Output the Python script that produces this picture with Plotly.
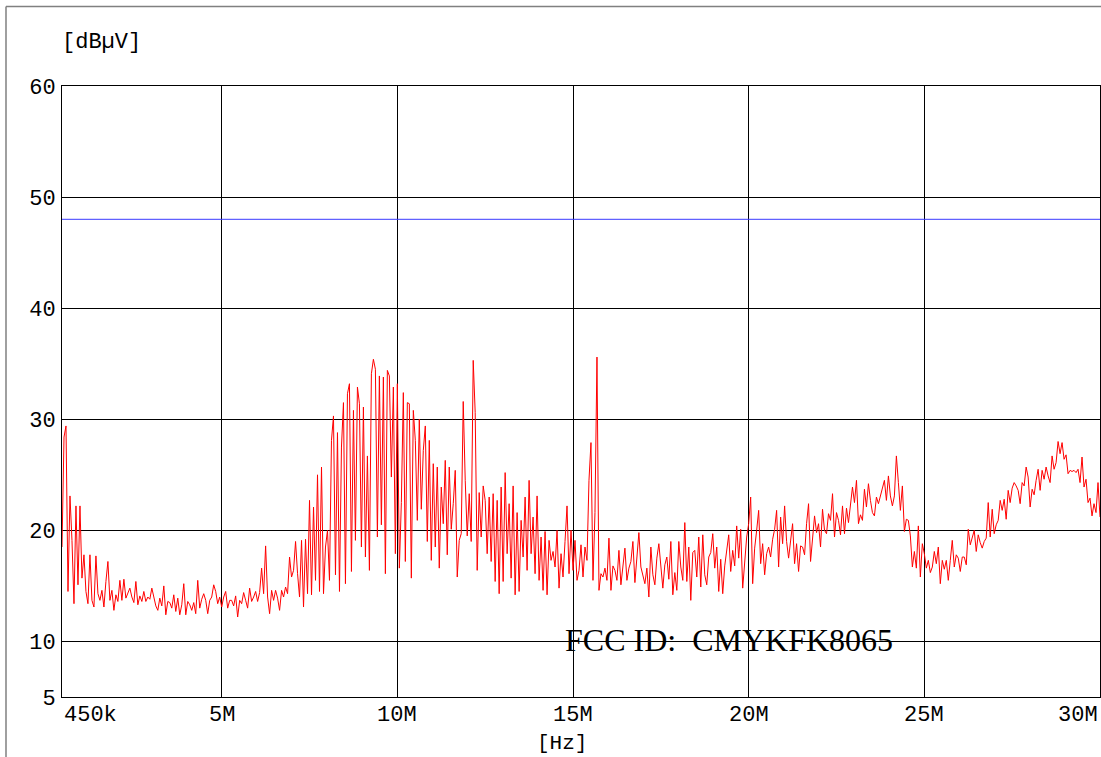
import numpy as np
import plotly.graph_objects as go

# ---- data ----
F_START_HZ = 450e3
F_STOP_HZ = 30e6

# measured level [dBuV], sweep chunks (each ~2 px step in reference)
level_0450k_5M = [18.5, 28.4, 29.4, 14.5, 23.1, 19.1, 13.4, 22.2, 15.1, 22.2,
                  15.7, 17.8, 14.5, 13.4, 17.8, 13.7, 13.1, 17.7, 14.3, 13.7,
                  14.6, 13.1, 15.4, 17.2, 13.7, 14.6, 12.8, 14.2, 13.6, 15.5,
                  13.7, 15.6, 13.9, 14.3, 14.8, 14.0, 13.5, 15.4, 13.3, 14.1,
                  13.6, 14.5, 13.6, 14.0, 13.8, 14.8, 13.9, 13.2, 12.8, 13.9,
                  13.2, 15.0, 12.4, 13.6, 13.5, 13.0, 14.2, 12.7, 13.9, 12.4,
                  13.3, 15.2, 12.4, 13.6, 13.3, 12.8, 13.5, 12.5, 15.5, 13.0,
                  13.8, 14.3, 13.7, 12.5, 13.7, 14.0, 15.1, 14.5, 13.4, 14.0]
level_5M_10M = [13.1, 14.0, 14.5, 13.0, 13.7, 13.7, 13.2, 14.1, 12.2, 13.7,
                13.4, 14.4, 13.7, 13.0, 14.8, 13.6, 14.0, 14.5, 13.6, 14.4,
                16.6, 14.3, 18.6, 14.0, 12.5, 14.6, 13.7, 14.6, 13.9, 12.8,
                14.6, 14.0, 14.9, 14.3, 17.6, 15.8, 16.4, 19.0, 16.1, 14.0,
                19.1, 13.1, 19.2, 14.3, 22.7, 14.2, 22.1, 15.5, 25.0, 14.5,
                25.7, 14.3, 18.5, 20.0, 15.5, 28.1, 30.3, 16.0, 28.8, 14.5,
                27.5, 31.5, 15.2, 32.3, 33.2, 16.3, 30.8, 19.1, 32.9, 31.4,
                18.5, 31.1, 17.6, 26.7, 16.4, 34.1, 35.4, 34.5, 19.4, 33.9,
                20.5, 33.8, 16.1, 34.4, 33.9, 24.8, 32.9, 17.9]
level_10M_15M = [33.2, 16.6, 22.5, 32.4, 17.2, 31.5, 31.4, 15.7, 30.8, 28.1,
                 20.9, 30.0, 21.9, 27.2, 29.4, 19.0, 28.1, 17.3, 26.0, 18.5,
                 25.7, 16.6, 23.9, 20.6, 26.3, 17.8, 25.7, 20.1, 22.4, 25.4,
                 15.8, 19.1, 19.7, 31.6, 24.5, 19.5, 23.3, 19.0, 35.3, 30.6,
                 16.4, 23.4, 19.4, 24.0, 22.7, 17.9, 23.0, 17.2, 23.3, 15.4,
                 22.7, 14.3, 23.9, 15.4, 25.2, 17.9, 22.4, 15.7, 24.0, 14.2,
                 21.6, 14.5, 20.9, 17.6, 23.0, 16.4, 24.5, 17.9, 21.2, 16.1,
                 23.1, 15.5, 19.4, 14.6, 19.9, 14.2, 19.1, 17.3, 18.1, 16.7,
                 20.0, 14.8, 17.9, 15.8, 19.0, 22.2, 16.1, 20.0]
level_15M_20M = [16.4, 19.1, 15.5, 16.4, 18.7, 15.8, 18.5, 17.3, 24.5, 27.9,
                 15.5, 21.6, 35.6, 14.6, 16.1, 15.8, 16.6, 15.5, 19.3, 14.6,
                 16.8, 16.4, 15.5, 18.2, 15.1, 16.5, 18.4, 15.5, 16.6, 17.2,
                 19.0, 15.3, 17.8, 19.8, 16.7, 16.0, 15.2, 16.6, 14.0, 18.5,
                 16.0, 15.1, 17.5, 18.8, 16.5, 14.8, 16.9, 17.6, 15.6, 19.0,
                 14.2, 16.2, 14.6, 19.0, 16.7, 15.5, 20.7, 15.4, 18.5, 13.7,
                 18.0, 18.2, 15.8, 19.4, 14.9, 19.6, 16.0, 15.1, 17.6, 18.0,
                 19.7, 16.6, 18.5, 14.5, 17.4, 14.3, 16.8, 18.2, 19.6, 16.3,
                 18.2, 16.8, 20.4, 17.5, 20.1, 14.8, 17.4, 19.4]
level_20M_25M = [20.6, 23.0, 15.2, 18.4, 20.0, 21.8, 17.0, 18.8, 16.0, 17.9,
                 18.5, 17.6, 19.2, 20.1, 21.8, 16.7, 21.2, 18.8, 22.2, 19.0,
                 17.5, 19.3, 20.6, 17.0, 18.8, 16.3, 18.6, 18.5, 17.8, 20.6,
                 22.4, 17.2, 19.0, 21.3, 19.8, 20.6, 18.5, 21.9, 20.0, 19.7,
                 21.5, 20.9, 23.3, 19.4, 21.6, 20.9, 19.6, 22.2, 19.7, 22.0,
                 20.7, 22.2, 23.9, 22.5, 24.5, 20.6, 21.4, 20.9, 23.7, 22.1,
                 24.2, 22.7, 21.6, 21.3, 23.0, 22.4, 23.1, 23.9, 24.5, 22.7,
                 24.9, 23.1, 22.2, 23.1, 26.7, 24.3, 21.8, 24.0, 19.9, 21.0,
                 20.9, 19.5, 16.7, 18.1, 16.6, 20.4, 15.8, 18.8]
level_25M_30M = [17.9, 16.6, 17.3, 16.2, 16.7, 18.1, 17.0, 18.5, 15.2, 17.3,
                 16.5, 17.3, 15.5, 17.3, 19.1, 16.7, 17.8, 17.5, 16.3, 17.6,
                 17.6, 16.9, 20.1, 18.7, 19.5, 20.0, 18.1, 19.6, 18.9, 18.4,
                 19.0, 19.3, 22.5, 19.4, 21.9, 19.7, 20.5, 20.9, 22.7, 21.8,
                 22.8, 21.0, 23.6, 22.5, 23.8, 24.3, 24.0, 23.6, 22.4, 24.3,
                 24.0, 25.7, 24.8, 22.1, 23.7, 23.2, 24.5, 25.5, 23.6, 25.4,
                 24.6, 25.7, 24.9, 24.3, 26.7, 25.5, 26.1, 28.0, 26.9, 27.9,
                 26.4, 26.8, 25.1, 25.4, 25.3, 25.4, 25.2, 25.5, 24.3, 26.6,
                 23.9, 24.6, 22.5, 22.9, 21.3, 22.4, 21.6, 24.3, 21.2]

limit_freq_hz = [450e3, 30e6]
limit_level = [48.0, 48.0]

x_tick_vals = [450e3, 5e6, 10e6, 15e6, 20e6, 25e6, 30e6]
x_tick_text = ["450k", "5M", "10M", "15M", "20M", "25M", "30M"]
y_tick_vals = [5, 10, 20, 30, 40, 50, 60]
y_tick_text = ["5", "10", "20", "30", "40", "50", "60"]

level = (level_0450k_5M + level_5M_10M + level_10M_15M + level_15M_20M
         + level_20M_25M + level_25M_30M)
freq_hz = np.linspace(F_START_HZ, F_STOP_HZ, len(level))  # sweep grid

MONO = "Liberation Mono, Courier New, monospace"
SERIF = "Liberation Serif, Times New Roman, serif"

fig = go.Figure()
fig.add_trace(go.Scatter(x=freq_hz, y=level, mode="lines",
                         line=dict(color="#ff0000", width=1), hoverinfo="skip"))
fig.add_trace(go.Scatter(x=limit_freq_hz, y=limit_level, mode="lines",
                         line=dict(color="#3a3aff", width=1), hoverinfo="skip"))

fig.update_layout(
    width=1101, height=757,
    margin=dict(l=62, r=1, t=86, b=60),
    paper_bgcolor="white", plot_bgcolor="white",
    showlegend=False,
    font=dict(family=MONO, size=22, color="black"),
)
fig.update_xaxes(
    range=[F_START_HZ, F_STOP_HZ],
    tickvals=x_tick_vals[1:], showticklabels=False,
    showgrid=True, gridcolor="black", gridwidth=1,
    showline=True, mirror=True, linecolor="black", linewidth=1,
    zeroline=False, ticks="",
)
fig.update_yaxes(
    range=[5, 60],
    tickvals=y_tick_vals, ticktext=y_tick_text,
    showgrid=True, gridcolor="black", gridwidth=1,
    showline=True, mirror=True, linecolor="black", linewidth=1,
    zeroline=False, ticks="", ticklabelstandoff=1,
    tickfont=dict(family=MONO, size=22, color="black"),
)

# x tick labels
for v, t in zip(x_tick_vals, x_tick_text):
    anchor = "left" if v == x_tick_vals[0] else ("right" if v == x_tick_vals[-1] else "center")
    fig.add_annotation(x=v, xref="x", y=-0.031, yref="paper", text=t,
                       showarrow=False, xanchor=anchor, yanchor="middle",
                       font=dict(family=MONO, size=22, color="black"))

fig.add_annotation(x=-0.002, xref="paper", y=1.0704, yref="paper", text="[dBµV]",
                   showarrow=False, xanchor="left", yanchor="middle",
                   font=dict(family=MONO, size=22, color="black"))
fig.add_annotation(x=0.4817, xref="paper", y=-0.0769, yref="paper", text="[Hz]",
                   showarrow=False, xanchor="center", yanchor="middle",
                   font=dict(family=MONO, size=21, color="black"))
fig.add_annotation(x=0.4827, xref="paper", y=10.15, yref="y", text="FCC ID:  CMYKFK8065",
                   showarrow=False, xanchor="left", yanchor="middle",
                   font=dict(family=SERIF, size=32, color="black"))

# outer frame
fig.add_shape(type="line", xref="paper", yref="paper", x0=-0.05395, x1=-0.05395,
              y0=-0.2, y1=1.1301, line=dict(color="#808080", width=1.5))
fig.add_shape(type="line", xref="paper", yref="paper", x0=-0.05395, x1=1.02,
              y0=1.1301, y1=1.1301, line=dict(color="#808080", width=1.5))

fig.write_html("out.html", config={"displayModeBar": False},
               post_script="document.body.style.margin='0';")
